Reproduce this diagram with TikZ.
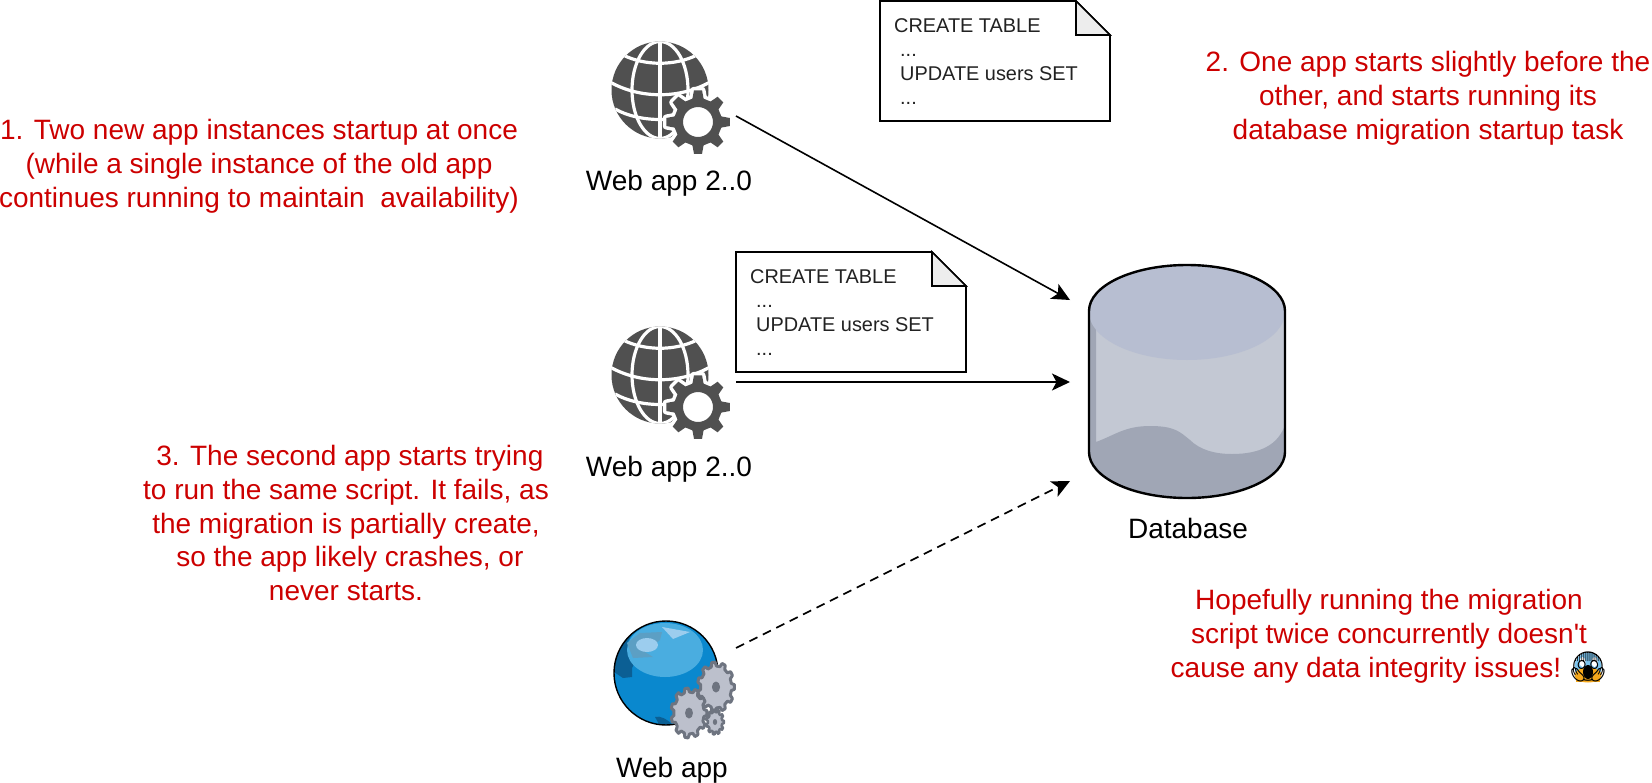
\documentclass[tikz,border=0pt]{standalone}
\usepackage{fontspec}
\setmainfont{Liberation Sans}[Ligatures=TeXOff]
\newfontfamily\emojifont{Noto Emoji}
\usetikzlibrary{arrows.meta}
\definecolor{redtxt}{HTML}{CC0000}
\definecolor{icondark}{HTML}{505050}
\definecolor{noteink}{HTML}{222222}
\definecolor{globeblue}{HTML}{0A88CE}
\definecolor{globedark}{HTML}{0B5F94}
\definecolor{globelight}{HTML}{4AADE0}
\definecolor{globepatch}{HTML}{5C9FC4}
\definecolor{globepale}{HTML}{9CCDEE}
\definecolor{cogedge}{HTML}{6E7480}
\definecolor{cogface}{HTML}{BCC0CC}
\definecolor{dbtop}{HTML}{B7BED1}
\definecolor{dbbody}{HTML}{C3C8D3}
\definecolor{dbdark}{HTML}{A0A6B5}
\definecolor{emojiblue}{HTML}{7CC4EE}
\definecolor{emojiorange}{HTML}{F5A81C}
\newcommand{\buildgear}[5]{% cx cy outer inner teeth
  \gdef\gearlist{}%
  \foreach \gi in {1,...,#5}{%
    \pgfmathsetmacro{\gstep}{360/#5}%
    \pgfmathsetmacro{\gang}{\gstep*\gi}%
    \pgfmathsetmacro{\xa}{#1+#3*cos(\gang-.16*\gstep)}\pgfmathsetmacro{\ya}{#2+#3*sin(\gang-.16*\gstep)}%
    \pgfmathsetmacro{\xb}{#1+#3*cos(\gang+.16*\gstep)}\pgfmathsetmacro{\yb}{#2+#3*sin(\gang+.16*\gstep)}%
    \pgfmathsetmacro{\xc}{#1+#4*cos(\gang+.30*\gstep)}\pgfmathsetmacro{\yc}{#2+#4*sin(\gang+.30*\gstep)}%
    \pgfmathsetmacro{\xd}{#1+#4*cos(\gang+.70*\gstep)}\pgfmathsetmacro{\yd}{#2+#4*sin(\gang+.70*\gstep)}%
    \xdef\gearlist{\gearlist (\xa,\ya) -- (\xb,\yb) -- (\xc,\yc) -- (\xd,\yd) -- }%
  }%
}
\tikzset{
  x=1pt,y=-1pt,
  redlabel/.style={text=redtxt,align=center,font=\fontsize{28}{33.8}\selectfont,inner sep=0pt},
  blacklabel/.style={text=black,font=\fontsize{28}{33}\selectfont,inner sep=0pt},
  notetext/.style={text=noteink,anchor=base west,font=\fontsize{19.9}{24}\selectfont,inner sep=0pt},
  noteline/.style={draw=black,line width=1.6pt,line join=miter},
  flow/.style={draw=black,line width=1.6pt,-{Stealth[length=18pt,width=17pt,inset=4.5pt]}},
  flowdash/.style={flow,dash pattern=on 9pt off 6pt},
  dbline/.style={draw=black,line width=2.4pt},
  gridline/.style={draw=white,line width=3.2pt},
}
\newcommand{\webglobe}[2]{%
  \begin{scope}[shift={(#1,#2)}]
    \fill[icondark] (0,0) circle (48.5pt);
    \begin{scope}
      \clip (0,0) circle (48.5pt);
      \draw[gridline] (0,-52) -- (0,52);
      \draw[gridline] (0,0) ellipse (28pt and 48.5pt);
      \draw[gridline] (-37,-35) .. controls (-15,-24) and (15,-24) .. (37,-35);
      \draw[gridline] (-50,-8) .. controls (-20,9) and (20,9) .. (50,-8);
      \draw[gridline] (-45,19) .. controls (-20,33) and (20,33) .. (45,19);
    \end{scope}
    \buildgear{38}{32}{32}{24}{8}
    \draw[white,line width=7pt,fill=white,line join=round] \gearlist cycle;
    \fill[icondark,even odd rule] \gearlist cycle (38,32) circle (15pt);
  \end{scope}}
\newcommand{\sqlnote}[3]{% name x y
  \path[noteline,fill=white] (#2,#3) -- ++(196,0) -- ++(34,34) -- ++(0,86) -- ++(-230,0) -- cycle;
  \path[noteline,fill=black!7] (#2+196,#3) -- ++(34,34) -- ++(-34,0) -- cycle;
  \node[notetext] (#1a) at (#2+14,#3+31) {CREATE TABLE};
  \node[notetext] (#1b) at (#2+20,#3+55) {...};
  \node[notetext] (#1c) at (#2+20,#3+79) {UPDATE users SET};
  \node[notetext] (#1d) at (#2+20,#3+103) {...};
}
\newcommand{\cog}[7]{% cx cy xscale outer inner hole stroke
  \begin{scope}[shift={(#1,#2)},xscale=#3]
    \buildgear{0}{0}{#4}{#5}{11}
    \fill[cogface,draw=cogedge,line width=#7pt,line join=round] \gearlist cycle;
    \fill[cogedge] (0,0) circle (#6pt);
  \end{scope}
}
\begin{document}
\begin{tikzpicture}
\useasboundingbox (0,0) rectangle (1652,782);
% text
\node[redlabel] (t1) at (259,166) {1. Two new app instances startup at once\\(while a single instance of the old app\\continues running to maintain\ \ availability)};
\node[redlabel] (t2) at (1428,98) {2. One app starts slightly before the\\other, and starts running its\\database migration startup task};
\node[redlabel] (t3) at (346,523) {\mbox{}\ 3. The second app starts trying\\to run the same script. It fails, as\\the migration is partially create,\\\mbox{}\ so the app likely crashes, or\\never starts.};
\node[redlabel] (t4) at (1389,636) {Hopefully running the migration\\script twice concurrently doesn't\\cause any data integrity issues!\mbox{\hspace{46pt}}};
% emoji
\fill[emojiorange] (1576,664) rectangle (1600,682);
\fill[emojiblue] (1588,667) ellipse (13.5pt and 14.5pt);
\fill[emojiorange] (1588,675) ellipse (13.5pt and 7.5pt);
\fill[white] (1582.5,662) ellipse (3pt and 5pt);
\fill[white] (1594.5,662) ellipse (3pt and 5pt);
\fill[black] (1588,672) ellipse (5pt and 7pt);
\node[inner sep=0pt,font=\emojifont\fontsize{29}{29}\selectfont] (emoji) at (1588,667) {\char"1F631};
% icons
\webglobe{660}{90}
\webglobe{660}{375}
\node[blacklabel] (w1) at (669,183) {Web app 2..0};
\node[blacklabel] (w2) at (669,469) {Web app 2..0};
% blue globe
\fill[globeblue] (666,673) circle (52pt);
\begin{scope}
  \clip (666,673) circle (52pt);
  \fill[globedark] (606,672) -- (614,672) -- (623,678) -- (632,677) -- (632,668) -- (637,658) -- (627,643) -- (640,620) -- (606,630) -- cycle;
  \fill[globedark] (655,717) .. controls (660,715) and (668,720) .. (672,724) -- (660,726) -- cycle;
  \fill[globelight] (665,650) ellipse (38pt and 27pt);
  \fill[globepatch] (627,643) -- (633,658) -- (653,657) -- (645,652) -- (660,640) -- (662,632) -- (640,633) -- cycle;
  \fill[globepale] (662,627) -- (690,632) -- (673,639) -- cycle;
  \fill[globepale] (647,645) ellipse (11pt and 7pt);
\end{scope}
\draw[black,line width=1.4pt] (666,673) circle (52pt);
\cog{716}{687}{0.74}{25}{21}{5.5}{3}
\cog{689}{713}{0.72}{25}{21}{5.5}{3}
\cog{715}{722}{0.72}{12.5}{10}{3}{2.5}
\node[blacklabel] (w3) at (672,770) {Web app};
\node[blacklabel] (dbl) at (1188,528) {Database};
% database
\fill[dbbody] (1089,311) arc[start angle=180,end angle=0,x radius=98pt,y radius=46pt] -- (1285,452) arc[start angle=360,end angle=180,x radius=98pt,y radius=46pt] -- cycle;
\fill[dbdark] (1089,311) -- (1096,320) -- (1096,442) .. controls (1115,435) and (1125,426) .. (1150,426) .. controls (1175,426) and (1180,432) .. (1190,440) .. controls (1200,450) and (1215,454) .. (1232,454) .. controls (1260,454) and (1278,445) .. (1285,425) -- (1285,452) arc[start angle=360,end angle=180,x radius=98pt,y radius=46pt] -- cycle;
\fill[dbtop] (1187,312) ellipse (98pt and 48pt);
\draw[dbline] (1089,311) arc[start angle=180,end angle=0,x radius=98pt,y radius=46pt] -- (1285,452) arc[start angle=360,end angle=180,x radius=98pt,y radius=46pt] -- cycle;
\sqlnote{na}{880}{1}
\sqlnote{nb}{736}{252}
\coordinate (a1s) at (736,116); \coordinate (a1e) at (1070,300);
\coordinate (a2s) at (736,382); \coordinate (a2e) at (1070,382);
\coordinate (a3s) at (736,648); \coordinate (a3e) at (1070,481);
\draw[flow] (a1s) -- (a1e);
\draw[flow] (a2s) -- (a2e);
\draw[flowdash] (a3s) -- (a3e);
\end{tikzpicture}
\end{document}
